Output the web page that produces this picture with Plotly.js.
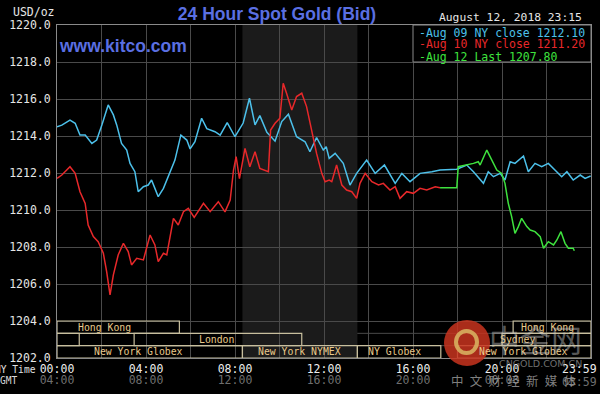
<!DOCTYPE html>
<html>
<head>
<meta charset="utf-8">
<script src="https://cdn.plot.ly/plotly-3.0.1.min.js"></script>
<style>html,body{margin:0;padding:0;background:#000;}#chart{width:600px;height:394px;}</style>
</head>
<body>
<div id="chart"></div>
<script>
// ---- data (time in minutes after 00:00 NY time, price USD/oz) ----
const aug09Min = [0,13,35,49,62,76,94,107,121,138,152,161,174,188,197,210,219,233,246,255,264,273,287,305,318,334,350,359,372,390,404,426,440,459,480,502,519,534,547,566,588,606,624,646,669,682,700,718,726,734,750,772,790,808,835,858,883,912,930,952,979,1011,1033,1078,1091,1105,1123,1150,1163,1177,1195,1208,1222,1235,1258,1271,1289,1307,1325,1343,1361,1375,1392,1411,1424,1439];
const aug09Price = [1214.50,1214.59,1214.86,1214.69,1214.05,1214.05,1213.60,1213.78,1214.59,1215.68,1215.14,1214.60,1213.60,1213.24,1212.52,1212.07,1210.99,1211.26,1211.35,1211.62,1211.17,1210.72,1211.17,1212.07,1212.70,1214.05,1213.78,1213.30,1213.69,1214.96,1214.40,1214.23,1214.05,1214.72,1213.96,1214.70,1216.04,1214.60,1215.10,1214.20,1213.72,1214.78,1215.18,1213.96,1213.69,1213.15,1213.92,1213.24,1213.42,1212.79,1213.06,1212.52,1211.35,1211.98,1212.70,1211.98,1212.43,1211.44,1211.98,1211.53,1211.98,1212.07,1212.16,1212.20,1212.30,1212.43,1212.07,1211.44,1212.07,1211.80,1211.98,1211.62,1212.61,1212.52,1212.92,1212.07,1212.52,1212.34,1212.52,1212.16,1211.80,1212.07,1211.62,1211.89,1211.71,1211.84];

const aug10Min = [0,13,35,49,62,76,84,98,111,125,134,143,152,165,179,192,201,215,233,251,264,273,287,296,314,327,341,354,370,395,413,435,453,467,476,483,492,507,520,534,547,561,570,576,588,601,610,619,633,646,660,673,687,700,714,723,734,741,754,768,781,795,808,817,831,849,867,880,898,912,925,943,961,979,997,1020,1033];
const aug10Price = [1211.71,1211.89,1212.34,1211.98,1210.99,1210.36,1209.19,1208.56,1208.29,1207.66,1206.66,1205.41,1206.49,1207.57,1208.20,1207.75,1207.03,1207.39,1207.30,1208.65,1208.11,1207.21,1207.66,1207.57,1209.55,1209.19,1209.91,1210.09,1209.60,1210.36,1209.91,1210.45,1209.90,1210.54,1212.16,1212.88,1211.70,1213.33,1212.34,1213.15,1212.25,1212.16,1212.07,1214.32,1214.69,1214.96,1216.85,1216.31,1215.41,1216.13,1216.31,1215.59,1214.32,1213.06,1211.98,1211.53,1211.62,1211.53,1212.43,1211.35,1211.08,1210.99,1210.63,1211.44,1211.98,1211.53,1211.35,1211.44,1211.08,1211.26,1210.63,1210.99,1210.90,1211.17,1211.08,1211.26,1211.20];

const aug12Min = [1033,1078,1082,1105,1123,1136,1141,1159,1172,1186,1199,1208,1217,1226,1235,1244,1253,1267,1276,1289,1303,1312,1325,1339,1348,1359,1370,1379,1392,1395];
const aug12Price = [1211.20,1211.20,1212.34,1212.43,1212.52,1212.61,1212.43,1213.24,1212.70,1212.16,1211.98,1211.44,1210.36,1209.64,1208.74,1209.10,1209.55,1209.10,1208.92,1208.83,1208.56,1207.93,1208.29,1208.11,1208.38,1208.83,1208.20,1207.93,1207.93,1207.80];

const legendLabels = ["-Aug 09 NY close 1212.10","-Aug 10 NY close 1211.20","-Aug 12 Last 1207.80"];

const nyTickVals = [0,120,240,360,480,600,720,840,960,1080,1200,1320];
const nyTickText = ["00:00","","04:00","","08:00","","12:00","","16:00","","20:00",""];
const gmtTickText = ["04:00","","08:00","","12:00","","16:00","","20:00","","00:00",""];
const yTicks = [1202,1204,1206,1208,1210,1212,1214,1216,1218,1220];

// trading sessions: name, start, end (minutes), row (0 top), label position
const sessionNames = ["Hong Kong","Hong Kong","","Sydney","London","New York Globex","New York NYMEX","NY Globex","New York Globex"];
const sessionStart = [0,1230,0,1200,208,0,500,810,1080];
const sessionEnd   = [330,1440,60,1440,660,500,810,1035,1440];
const sessionRow   = [0,0,1,1,1,2,2,2,2];
const sessionLabelAt = [127,1322,0,1241,429,220,653,910,1258];
const nymexStart = 500, nymexEnd = 810;

// ---- styling ----
const COL_BLUE = '#4cc0ea', COL_RED = '#e8282a', COL_GREEN = '#3ee23e';
const MONO = 'DejaVu Sans Mono, monospace';
const SESS_LINE = '#c8bf9e', SESS_TEXT = '#e9c98a';

const L = 57, R = 591, T = 25, B = 358;
const px = x => (x - L) / (R - L);
const py = y => (B - y) / (B - T);

const rowTop = r => 1204 - r * (2/3);
const shapes = [];
const annotations = [];

shapes.push({type:'rect', xref:'x', yref:'y', x0:nymexStart, x1:nymexEnd, y0:1202, y1:1220,
  fillcolor:'#1b1b1b', line:{width:0}, layer:'below'});
// row separators
[1204 - 2/3, 1204 - 4/3].forEach(v => shapes.push({type:'line', xref:'paper', yref:'y', x0:0, x1:1, y0:v, y1:v,
  line:{color:'#4a4a4a', width:1}, layer:'below'}));

sessionNames.forEach((n,i) => {
  const y1 = rowTop(sessionRow[i]), y0 = y1 - 2/3;
  shapes.push({type:'rect', xref:'x', yref:'y', x0:sessionStart[i], x1:sessionEnd[i], y0:y0, y1:y1,
    line:{color:SESS_LINE, width:1.2}, fillcolor:'rgba(0,0,0,0)'});
  if (n) annotations.push({xref:'x', yref:'y', x:sessionLabelAt[i], y:(y0+y1)/2, text:n, showarrow:false,
    font:{family:MONO, size:9.8, color:SESS_TEXT}, xanchor:'center', yanchor:'middle'});
});

// legend box
shapes.push({type:'rect', xref:'paper', yref:'paper', x0:px(413), x1:1, y0:py(62), y1:1,
  fillcolor:'#000', line:{color:'#8a8a8a', width:1}, layer:'above'});
const legCols = [COL_BLUE, COL_RED, COL_GREEN];
legendLabels.forEach((t,i) => annotations.push({xref:'paper', yref:'paper', x:px(417), y:py(32.5 + i*12),
  text:t, showarrow:false, xanchor:'left', yanchor:'middle', font:{family:MONO, size:11.5, color:legCols[i]}}));

// texts
annotations.push({xref:'paper', yref:'paper', x:px(11), y:py(12), text:'USD/oz', showarrow:false,
  xanchor:'left', yanchor:'middle', font:{family:MONO, size:11.5, color:'#e6e6e6'}});
annotations.push({xref:'paper', yref:'paper', x:px(437), y:py(18), text:'August 12, 2018 23:15', showarrow:false,
  xanchor:'left', yanchor:'middle', font:{family:MONO, size:11.3, color:'#e6e6e6'}});
annotations.push({xref:'paper', yref:'paper', x:px(57), y:py(46), text:'<b>www.kitco.com</b>', showarrow:false,
  xanchor:'left', yanchor:'middle', font:{family:'Liberation Sans, Arial, sans-serif', size:17.5, color:'#5a6fe2'}});
annotations.push({xref:'paper', yref:'paper', x:px(38), y:py(369), text:'NY Time', showarrow:false,
  xanchor:'right', yanchor:'middle', font:{family:MONO, size:9.6, color:'#e0e0e0'}});
annotations.push({xref:'paper', yref:'paper', x:px(20), y:py(381), text:'GMT', showarrow:false,
  xanchor:'right', yanchor:'middle', font:{family:MONO, size:9.6, color:'#d8d8d8'}});
annotations.push({xref:'paper', yref:'paper', x:px(579), y:py(369), text:'23:59', showarrow:false,
  xanchor:'center', yanchor:'middle', font:{family:MONO, size:11.5, color:'#eeeeee'}});
annotations.push({xref:'paper', yref:'paper', x:px(579), y:py(382), text:'03:59', showarrow:false,
  xanchor:'center', yanchor:'middle', font:{family:MONO, size:11.5, color:'#6e6e6e'}});

// watermark
shapes.push({type:'circle', xref:'paper', yref:'paper', x0:px(444), x1:px(490), y0:py(366), y1:py(320),
  fillcolor:'rgba(200,52,30,0.85)', line:{width:0}, layer:'above'});
shapes.push({type:'circle', xref:'paper', yref:'paper', x0:px(456), x1:px(477), y0:py(353), y1:py(331),
  fillcolor:'rgba(0,0,0,0)', line:{color:'rgba(215,175,95,0.9)', width:4}, layer:'above'});
annotations.push({xref:'paper', yref:'paper', x:px(535), y:py(338), text:'中金网', showarrow:false,
  xanchor:'center', yanchor:'middle', font:{family:'Noto Sans CJK SC', size:31, color:'rgba(200,200,200,0.45)'}});
annotations.push({xref:'paper', yref:'paper', x:px(540), y:py(363), text:'CNGOLD.COM.CN', showarrow:false,
  xanchor:'center', yanchor:'middle', font:{family:'DejaVu Sans', size:9.5, color:'rgba(160,160,160,0.7)'}});
annotations.push({xref:'paper', yref:'paper', x:px(514), y:py(380), text:'中\u2002文\u2002财\u2002经\u2002新\u2002媒\u2002体', showarrow:false,
  xanchor:'center', yanchor:'middle', font:{family:'Noto Sans CJK SC', size:12.5, color:'rgba(170,170,170,0.75)'}});

const traces = [
  {x:aug09Min, y:aug09Price, type:'scatter', mode:'lines', line:{color:COL_BLUE, width:1.5}, hoverinfo:'skip'},
  {x:aug10Min, y:aug10Price, type:'scatter', mode:'lines', line:{color:COL_RED, width:1.5}, hoverinfo:'skip'},
  {x:aug12Min, y:aug12Price, type:'scatter', mode:'lines', line:{color:COL_GREEN, width:1.5}, hoverinfo:'skip'},
  {x:[0,1440], y:[null,null], xaxis:'x2', type:'scatter', mode:'lines', hoverinfo:'skip'}
];

const layout = {
  width:600, height:394,
  margin:{l:L, r:600-R, t:T, b:394-B, pad:0},
  paper_bgcolor:'#000', plot_bgcolor:'#000',
  showlegend:false,
  title:{text:'<b>24 Hour Spot Gold (Bid)</b>', x:277/600, xanchor:'center', y:1-14/394, yanchor:'middle',
    font:{family:'Liberation Sans, Arial, sans-serif', size:17.5, color:'#5a6fe2'}},
  xaxis:{range:[0,1440], tickmode:'array', tickvals:nyTickVals, ticktext:nyTickText,
    showgrid:true, gridcolor:'#4a4a4a', gridwidth:1, zeroline:false,
    showline:true, mirror:true, linecolor:'#8a8a8a', linewidth:1, ticks:'',
    tickfont:{family:MONO, size:11.5, color:'#eeeeee'}, ticklabelstandoff:0, fixedrange:true},
  xaxis2:{range:[0,1440], overlaying:'x', side:'bottom', anchor:'y', tickmode:'array', tickvals:nyTickVals, ticktext:gmtTickText,
    showgrid:false, zeroline:false, showline:false, ticks:'',
    tickfont:{family:MONO, size:11.5, color:'#6e6e6e'}, ticklabelstandoff:13, fixedrange:true},
  yaxis:{range:[1202,1220], tickmode:'array', tickvals:yTicks, tickformat:'.1f',
    showgrid:true, gridcolor:'#4a4a4a', gridwidth:1, zeroline:false,
    showline:true, mirror:true, linecolor:'#8a8a8a', linewidth:1, ticks:'',
    tickfont:{family:MONO, size:11.5, color:'#e6e6e6'}, ticklabelstandoff:3, fixedrange:true},
  shapes:shapes, annotations:annotations
};

Plotly.newPlot('chart', traces, layout, {displayModeBar:false, staticPlot:true});
</script>
</body>
</html>
